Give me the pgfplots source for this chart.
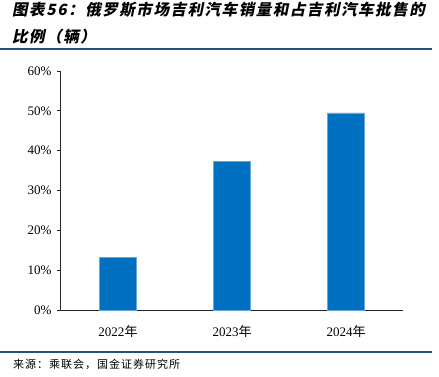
\documentclass[border=0pt]{standalone}
\usepackage{pgfplots}
\pgfplotsset{compat=1.18}
\usepackage{fontspec}
\setmainfont{Liberation Serif}
\newfontfamily\cjk{Noto Sans CJK SC}
\newfontfamily\cjksrc[LetterSpace=9]{Noto Sans CJK SC}
\newfontfamily\cjktitle[FakeSlant=0.2,LetterSpace=10]{Noto Sans CJK SC}
\definecolor{barblue}{RGB}{0,112,192}
\definecolor{rulecol}{RGB}{36,82,122}
\begin{document}
\begin{tikzpicture}[x=1pt,y=1pt]
\path[use as bounding box] (0,0) rectangle (439,376);
\node[anchor=west,inner sep=0] at (12,366) {\fontsize{15.5}{18}\cjktitle\bfseries 图表56：俄罗斯市场吉利汽车销量和占吉利汽车批售的};
\node[anchor=west,inner sep=0] at (12,339) {\fontsize{15.5}{18}\cjktitle\bfseries 比例（辆）};
\draw[rulecol,line width=1.5pt] (0,327) -- (432,327);
\draw[rulecol,line width=1.5pt] (0,24) -- (432,24);
\node[anchor=west,inner sep=0] at (13,12) {\fontsize{11}{13}\cjksrc 来源：乘联会，国金证券研究所};
\begin{axis}[
  at={(61pt,66pt)}, anchor=south west,
  scale only axis, width=342pt, height=239pt,
  xmin=-0.5, xmax=2.5, ymin=0, ymax=60,
  axis lines=left, axis line style={-, line width=1pt, black!85},
  tick align=outside, major tick length=4pt,
  ytick={0,10,...,60},
  yticklabel={\pgfmathprintnumber[assume math mode=true]{\tick}\%},
  xtick={0,1,2},
  xticklabels={2022{\cjk 年},2023{\cjk 年},2024{\cjk 年}},
  major x tick style={draw=none},
  major y tick style={black!85, line width=0.8pt},
  ticklabel style={font=\fontsize{13}{15}\selectfont},
  xticklabel style={yshift=-8pt},
  yticklabel style={xshift=-2pt},
]
\addplot[ybar, bar width=37pt, fill=barblue, draw=barblue!60!white, line width=0.6pt]
  coordinates {(0,13.3) (1,37.4) (2,49.5)};
\end{axis}
\end{tikzpicture}
\end{document}
